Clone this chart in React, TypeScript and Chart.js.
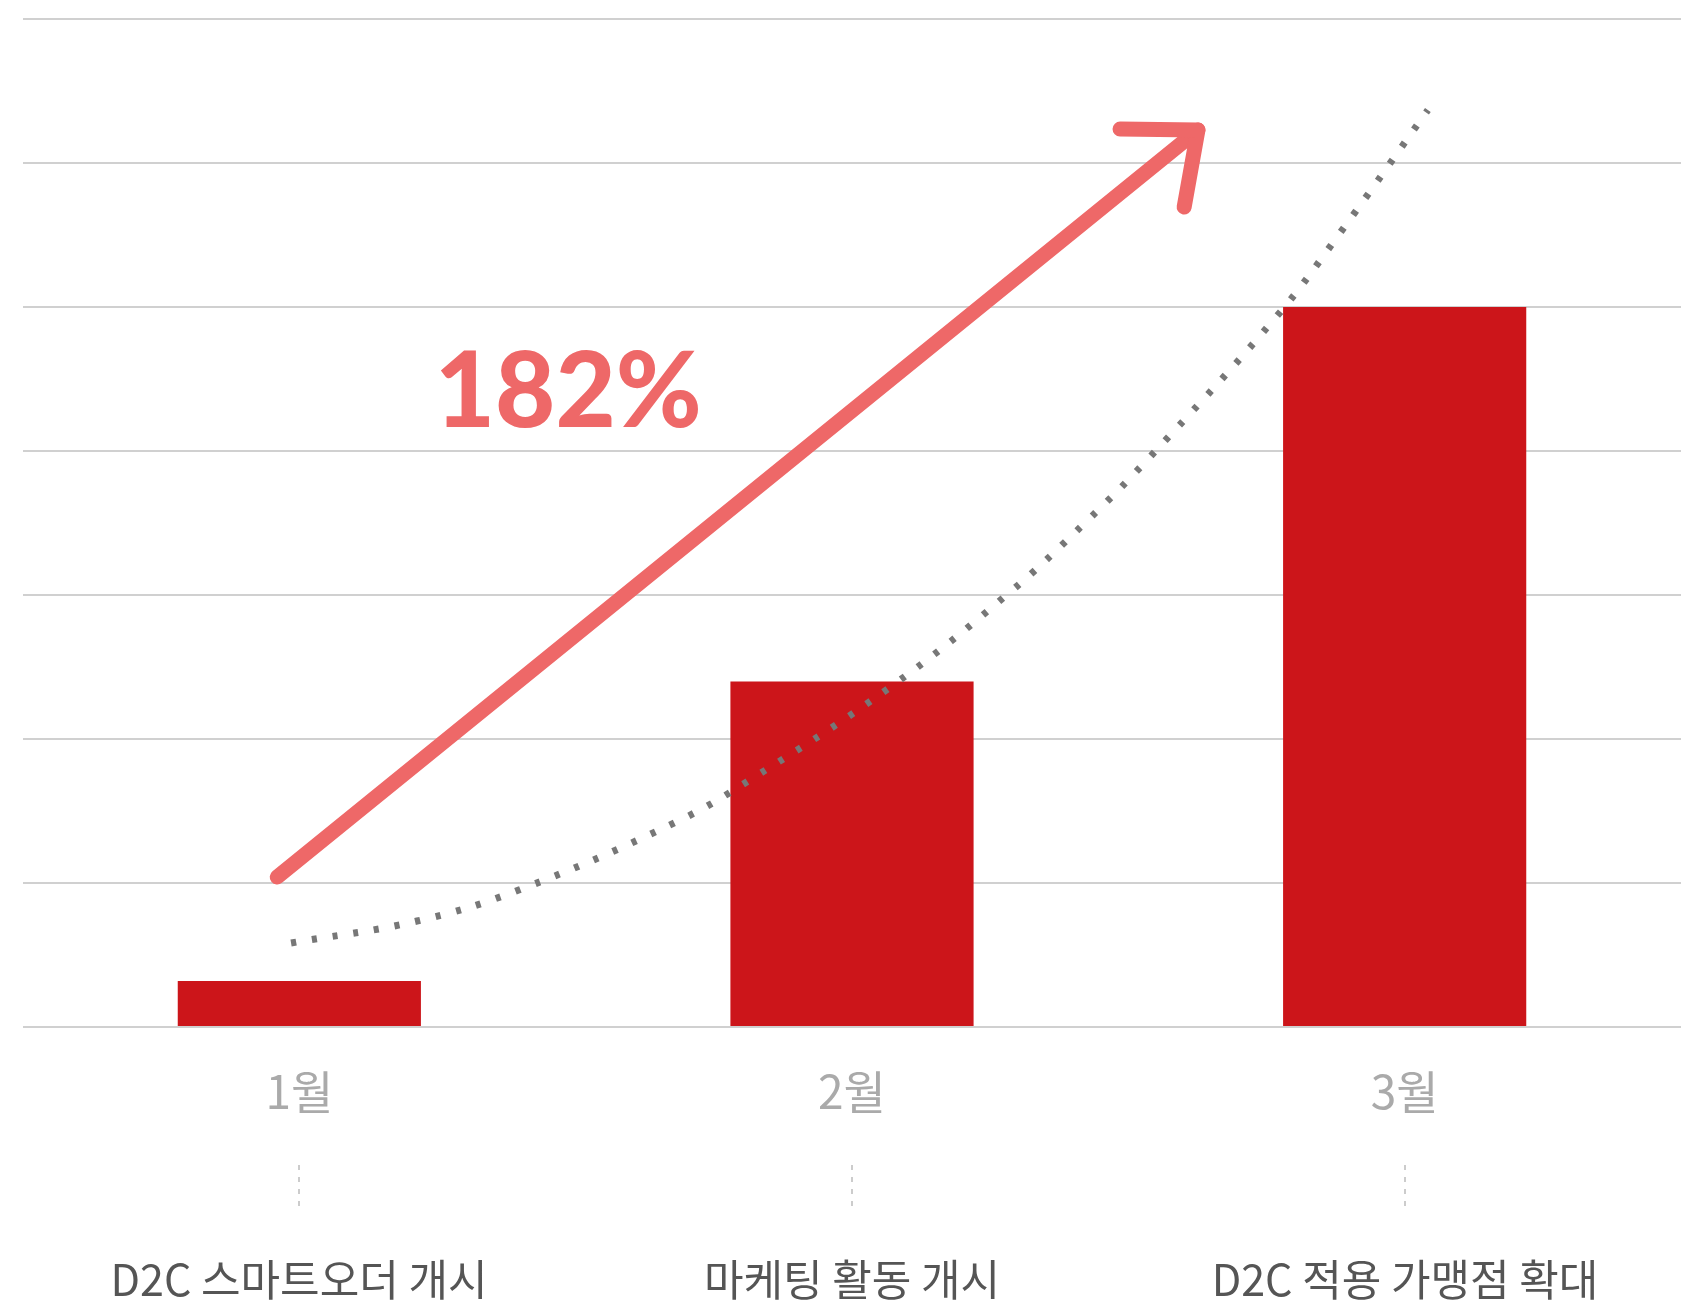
import React, { useEffect, useRef } from "react";
import { Chart, registerables } from "chart.js";

Chart.register(...registerables);

// ---- data ----
const categories = ["1월", "2월", "3월"];
const descriptions = ["D2C 스마트오더 개시", "마케팅 활동 개시", "D2C 적용 가맹점 확대"];
const salesValues = [0.32, 2.4, 5.0];
// trend (dotted) curve: x in category-slot units, y in value units
const trendX = [0.485, 0.713, 0.897, 1.182, 1.315, 1.572, 1.784, 1.925, 2.034, 2.269, 2.383, 2.542];
const trendY = [0.583, 0.736, 0.951, 1.424, 1.715, 2.368, 3.014, 3.514, 3.938, 4.938, 5.514, 6.368];
const yMax = 7;
const growthLabel = "182%";
// arrow annotation in scale units [slot, value]
const arrowStart = [0.46, 1.042];
const arrowTip = [2.126, 6.229];
const arrowArmA = [1.985, 6.236];
const arrowArmB = [2.101, 5.694];
const growthLabelPos = [0.745, 4.17];

const BAR_COLOR = "#cc151a";
const ARROW_COLOR = "#ee6868";
const FONT = "'Noto Sans CJK KR', 'Noto Sans', sans-serif";

const annotationPlugin = {
  id: "annotations",
  afterDatasetsDraw(chart: any) {
    const ctx = chart.ctx;
    const xt = chart.scales.xt;
    const y = chart.scales.y;
    const px = (p: number[]) => [xt.getPixelForValue(p[0]), y.getPixelForValue(p[1])];
    const s = px(arrowStart);
    const t = px(arrowTip);
    const a = px(arrowArmA);
    const b = px(arrowArmB);
    ctx.save();
    ctx.strokeStyle = ARROW_COLOR;
    ctx.lineWidth = 15;
    ctx.lineCap = "round";
    ctx.lineJoin = "round";
    ctx.beginPath();
    ctx.moveTo(s[0], s[1]);
    ctx.lineTo(t[0], t[1]);
    ctx.stroke();
    ctx.beginPath();
    ctx.moveTo(a[0], a[1]);
    ctx.lineTo(t[0], t[1]);
    ctx.lineTo(b[0], b[1]);
    ctx.stroke();
    const g = px(growthLabelPos);
    ctx.fillStyle = ARROW_COLOR;
    ctx.font = "900 104px Lato, 'Noto Sans', sans-serif";
    ctx.textAlign = "left";
    ctx.textBaseline = "alphabetic";
    ctx.fillText(growthLabel, g[0], g[1]);
    ctx.restore();
  },
  afterDraw(chart: any) {
    const ctx = chart.ctx;
    const x = chart.scales.x;
    ctx.save();
    categories.forEach((_, i) => {
      const cx = Math.round(x.getPixelForValue(i));
      ctx.strokeStyle = "#cccccc";
      ctx.lineWidth = 2;
      ctx.setLineDash([5, 7]);
      ctx.beginPath();
      ctx.moveTo(cx, 1165);
      ctx.lineTo(cx, 1213);
      ctx.stroke();
      ctx.setLineDash([]);
      ctx.fillStyle = "#555555";
      ctx.font = `400 43px ${FONT}`;
      ctx.textAlign = "center";
      ctx.textBaseline = "middle";
      ctx.fillText(descriptions[i], cx, 1280);
    });
    ctx.restore();
  },
};

export default function App() {
  const ref = useRef<HTMLCanvasElement | null>(null);
  useEffect(() => {
    document.body.style.margin = "0";
    const canvas = ref.current!;
    const chart = new Chart(canvas, {
      type: "bar",
      data: {
        labels: categories,
        datasets: [
          {
            type: "line",
            data: trendX.map((v, i) => ({ x: v, y: trendY[i] })),
            xAxisID: "xt",
            borderColor: "#777777",
            borderWidth: 7,
            borderDash: [5, 16],
            borderCapStyle: "butt",
            pointRadius: 0,
            tension: 0.4,
            fill: false,
            order: 1,
          } as any,
          {
            type: "bar",
            data: salesValues,
            xAxisID: "x",
            backgroundColor: BAR_COLOR,
            borderWidth: 0,
            grouped: false,
            categoryPercentage: 1,
            barPercentage: 0.44,
            order: 2,
          } as any,
        ],
      },
      options: {
        responsive: false,
        animation: false,
        layout: { padding: { top: 19, left: 23, right: 0, bottom: 0 } },
        plugins: { legend: { display: false }, tooltip: { enabled: false } },
        scales: {
          x: {
            type: "category",
            offset: true,
            grid: { display: false },
            border: { display: false },
            ticks: {
              color: "#aaaaaa",
              font: { family: FONT, size: 46 },
              padding: 29,
            },
            afterFit: (s: any) => {
              s.height = 278;
            },
          },
          xt: {
            type: "linear",
            display: false,
            offset: false,
            grace: 0,
            min: 0,
            max: 3,
            grid: { offset: false },
          } as any,
          y: {
            min: 0,
            max: yMax,
            ticks: { display: false, stepSize: 1 },
            grid: { color: "#d0d0d0", lineWidth: 2, drawTicks: false },
            border: { display: false },
            afterFit: (s: any) => {
              s.width = 0;
            },
          },
        },
      },
      plugins: [annotationPlugin],
    });
    return () => chart.destroy();
  }, []);
  return (
    <canvas ref={ref} width={1681} height={1305} style={{ display: "block", width: 1681, height: 1305 }} />
  );
}
